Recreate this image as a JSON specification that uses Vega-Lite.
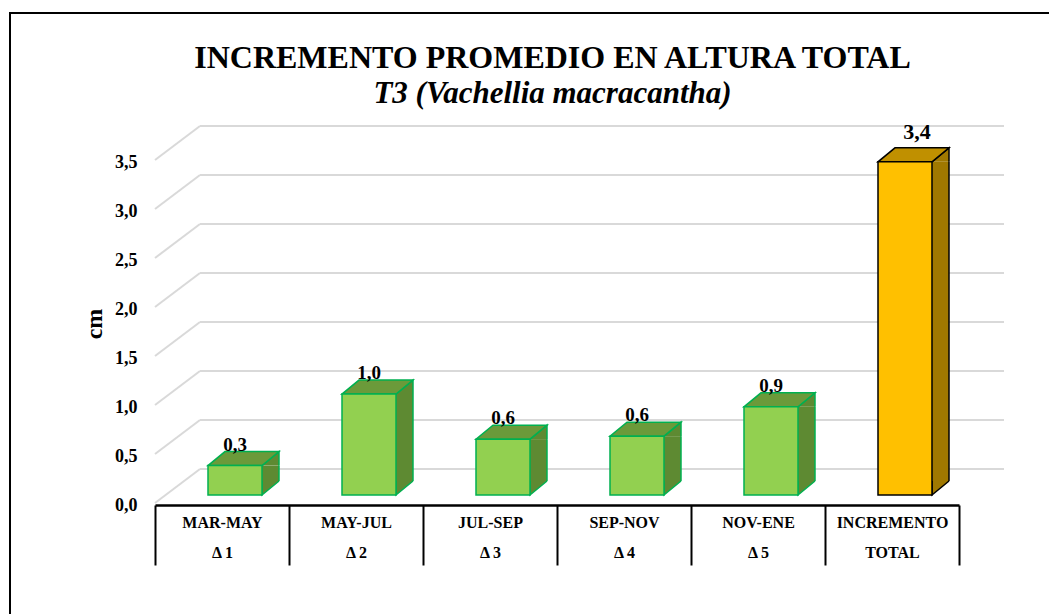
{
  "$schema": "https://vega.github.io/schema/vega-lite/v6.json",
  "width": 1045,
  "height": 620,
  "autosize": {"type": "none"},
  "padding": {"left": 10, "top": 13, "right": 0, "bottom": 0},
  "background": "white",
  "config": {
    "view": {"stroke": "black", "strokeWidth": 2},
    "font": "Liberation Serif",
    "locale": {"number": {"decimal": ",", "thousands": ".", "grouping": [3], "currency": ["", " €"]}}
  },
  "title": {
    "text": "INCREMENTO PROMEDIO EN ALTURA TOTAL",
    "subtitle": "T3 (Vachellia macracantha)",
    "font": "Liberation Serif",
    "fontSize": 32,
    "fontWeight": "bold",
    "color": "black",
    "subtitleFont": "Liberation Serif",
    "subtitleFontSize": 31,
    "subtitleFontWeight": "bold",
    "subtitleFontStyle": "italic",
    "subtitleColor": "black",
    "subtitlePadding": 4,
    "anchor": "middle",
    "dx": 20,
    "offset": -97
  },
  "datasets": {
    "bars": [
      {"cat": "MAR-MAY|Δ 1", "v": 0.3, "grupo": "int"},
      {"cat": "MAY-JUL|Δ 2", "v": 1.03, "grupo": "int"},
      {"cat": "JUL-SEP|Δ 3", "v": 0.57, "grupo": "int"},
      {"cat": "SEP-NOV|Δ 4", "v": 0.6, "grupo": "int"},
      {"cat": "NOV-ENE|Δ 5", "v": 0.9, "grupo": "int"},
      {"cat": "INCREMENTO|TOTAL", "v": 3.4, "grupo": "total"}
    ],
    "grid": [
      {"g": 0}, {"g": 0.5}, {"g": 1}, {"g": 1.5}, {"g": 2}, {"g": 2.5}, {"g": 3}, {"g": 3.5}
    ]
  },
  "layer": [
    {
      "data": {"name": "grid"},
      "mark": {"type": "rule", "color": "#D9D9D9", "strokeWidth": 2, "xOffset": 45, "x2Offset": 45, "yOffset": -26},
      "encoding": {
        "x": {"datum": "MAR-MAY|Δ 1", "type": "nominal", "bandPosition": 0,
              "scale": {"type": "band", "domain": ["MAR-MAY|Δ 1", "MAY-JUL|Δ 2", "JUL-SEP|Δ 3", "SEP-NOV|Δ 4", "NOV-ENE|Δ 5", "INCREMENTO|TOTAL"], "range": [145, 949], "paddingInner": 0, "paddingOuter": 0},
              "axis": {"orient": "bottom", "offset": -128, "title": null,
                       "domainColor": "black", "domainWidth": 2.5,
                       "tickColor": "black", "tickWidth": 2, "tickSize": 60, "tickBand": "extent",
                       "labelAngle": 0, "labelFont": "Liberation Serif", "labelFontWeight": "bold", "labelFontSize": 16,
                       "labelColor": "black", "labelPadding": -51, "labelLineHeight": 30, "labelOverlap": false, "labelFlush": false,
                       "labelLimit": 0,
                       "labelExpr": "isValid(datum.value) ? split(datum.value, '|') : ''"}},
        "x2": {"datum": "INCREMENTO|TOTAL", "bandPosition": 1},
        "y": {"field": "g", "type": "quantitative",
              "scale": {"domain": [0, 3.5], "range": [482, 139], "nice": false, "zero": true},
              "axis": {"orient": "left", "offset": -130, "values": [0, 0.5, 1, 1.5, 2, 2.5, 3, 3.5],
                       "domain": false, "ticks": false, "grid": false, "format": ".1f",
                       "labelFont": "Liberation Serif", "labelFontSize": 18, "labelFontWeight": "bold", "labelColor": "black",
                       "labelPadding": 3, "labelOffset": 10,
                       "title": "cm", "titleFont": "Liberation Serif", "titleFontSize": 24, "titleFontWeight": "bold", "titleColor": "black", "titlePadding": 8}}
      }
    },
    {
      "data": {"name": "grid"},
      "mark": {"type": "rule", "color": "#D9D9D9", "strokeWidth": 2, "x2Offset": 45, "yOffset": 8, "y2Offset": -26},
      "encoding": {
        "x": {"datum": "MAR-MAY|Δ 1", "type": "nominal", "bandPosition": 0},
        "x2": {"datum": "MAR-MAY|Δ 1", "bandPosition": 0},
        "y": {"field": "g", "type": "quantitative"},
        "y2": {"field": "g"}
      }
    },
    {
      "data": {"name": "bars"},
      "mark": {"type": "bar", "size": 17, "xOffset": 48.5, "y2Offset": -14},
      "encoding": {
        "x": {"field": "cat", "type": "nominal"},
        "y": {"field": "v", "type": "quantitative"},
        "y2": {"datum": 0},
        "fill": {"condition": {"test": "datum.grupo === 'total'", "value": "#A07800"}, "value": "#5E8A32"}
      }
    },
    {
      "data": {"name": "bars"},
      "mark": {"type": "point", "shape": "M40,0L57,-14L57,0", "size": 4, "filled": true, "opacity": 1, "strokeWidth": 1.5},
      "encoding": {
        "x": {"field": "cat", "type": "nominal"},
        "y": {"field": "v", "type": "quantitative"},
        "fill": {"condition": {"test": "datum.grupo === 'total'", "value": "#A07800"}, "value": "#5E8A32"},
        "stroke": {"condition": {"test": "datum.grupo === 'total'", "value": "black"}, "value": "#00B050"}
      }
    },
    {
      "data": {"name": "bars"},
      "mark": {"type": "point", "shape": "M40,-14L40,0L57,-14", "size": 4, "filled": true, "opacity": 1, "strokeWidth": 1.5},
      "encoding": {
        "x": {"field": "cat", "type": "nominal"},
        "y": {"datum": 0, "type": "quantitative"},
        "fill": {"condition": {"test": "datum.grupo === 'total'", "value": "#A07800"}, "value": "#5E8A32"},
        "stroke": {"condition": {"test": "datum.grupo === 'total'", "value": "black"}, "value": "#00B050"}
      }
    },
    {
      "data": {"name": "bars"},
      "mark": {"type": "rule", "xOffset": 57, "y2Offset": -14, "strokeWidth": 1.5},
      "encoding": {
        "x": {"field": "cat", "type": "nominal"},
        "y": {"field": "v", "type": "quantitative"},
        "y2": {"datum": 0},
        "stroke": {"condition": {"test": "datum.grupo === 'total'", "value": "black"}, "value": "#00B050"}
      }
    },
    {
      "data": {"name": "bars"},
      "mark": {"type": "point", "shape": "M-14,0L40,0L57,-14L3,-14Z", "size": 4, "filled": true, "opacity": 1, "strokeWidth": 1.5},
      "encoding": {
        "x": {"field": "cat", "type": "nominal"},
        "y": {"field": "v", "type": "quantitative"},
        "fill": {"condition": {"test": "datum.grupo === 'total'", "value": "#C09000"}, "value": "#6B9A3A"},
        "stroke": {"condition": {"test": "datum.grupo === 'total'", "value": "black"}, "value": "#00B050"}
      }
    },
    {
      "data": {"name": "bars"},
      "mark": {"type": "bar", "size": 54, "xOffset": 13, "strokeWidth": 1.5},
      "encoding": {
        "x": {"field": "cat", "type": "nominal"},
        "y": {"field": "v", "type": "quantitative"},
        "y2": {"datum": 0},
        "fill": {"condition": {"test": "datum.grupo === 'total'", "value": "#FFC000"}, "value": "#92D050"},
        "stroke": {"condition": {"test": "datum.grupo === 'total'", "value": "black"}, "value": "#00B050"}
      }
    },
    {
      "data": {"name": "bars"},
      "transform": [{"filter": "datum.grupo === 'int'"}],
      "mark": {"type": "text", "dx": 13, "dy": -21, "baseline": "middle", "align": "center", "font": "Liberation Serif", "fontSize": 19, "fontWeight": "bold", "color": "black"},
      "encoding": {
        "x": {"field": "cat", "type": "nominal"},
        "y": {"field": "v", "type": "quantitative"},
        "text": {"field": "v", "type": "quantitative", "format": ".1f"}
      }
    },
    {
      "data": {"name": "bars"},
      "transform": [{"filter": "datum.grupo === 'total'"}],
      "mark": {"type": "text", "dx": 25, "dy": -30, "baseline": "middle", "align": "center", "font": "Liberation Serif", "fontSize": 22, "fontWeight": "bold", "color": "black"},
      "encoding": {
        "x": {"field": "cat", "type": "nominal"},
        "y": {"field": "v", "type": "quantitative"},
        "text": {"field": "v", "type": "quantitative", "format": ".1f"}
      }
    }
  ]
}
